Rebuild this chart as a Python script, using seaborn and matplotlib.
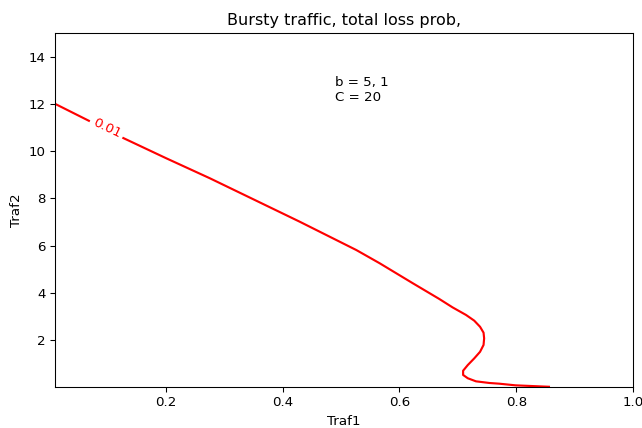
import matplotlib
matplotlib.use("Agg")
import matplotlib.pyplot as plt
import seaborn as sns
import pandas as pd

# Contour of total loss probability = 0.01 in the (Traf1, Traf2) plane
traf1 = [0.01, 0.127, 0.2, 0.275, 0.429, 0.526, 0.566, 0.623, 0.668, 0.691,
         0.714, 0.728, 0.738, 0.744, 0.745, 0.744, 0.738, 0.728, 0.717, 0.709,
         0.709, 0.717, 0.731, 0.754, 0.771, 0.799, 0.856]
traf2 = [12.0, 10.55, 9.70, 8.85, 7.01, 5.81, 5.25, 4.40, 3.74, 3.38,
         3.06, 2.82, 2.56, 2.31, 2.07, 1.79, 1.50, 1.22, 0.94, 0.70,
         0.52, 0.38, 0.25, 0.18, 0.15, 0.08, 0.02]
level_label = "0.01"
label_pos = (0.0986, 10.97)
params_text = "b = 5, 1\nC = 20"

df = pd.DataFrame({"Traf1": traf1, "Traf2": traf2})

DPI = 96
fig, ax = plt.subplots(figsize=(642 / DPI, 428 / DPI), dpi=DPI)
fig.subplots_adjust(left=0.0857, right=0.986, top=0.923, bottom=0.0958)

sns.lineplot(data=df, x="Traf1", y="Traf2", sort=False, estimator=None,
             color="red", linewidth=1.6, ax=ax)

ax.text(label_pos[0], label_pos[1], level_label, color="red", fontsize=10,
        rotation=-25.6, ha="center", va="center", rotation_mode="anchor",
        bbox=dict(facecolor="white", edgecolor="none", pad=2.5))

ax.text(0.49, 12.1, params_text, fontsize=10)

ax.set_xlim(0.01, 1.0)
ax.set_ylim(0.01, 15)
ax.set_title("Bursty traffic, total loss prob,")
ax.set_xlabel("Traf1")
ax.set_ylabel("Traf2")

fig.savefig("out.png", dpi=DPI)
